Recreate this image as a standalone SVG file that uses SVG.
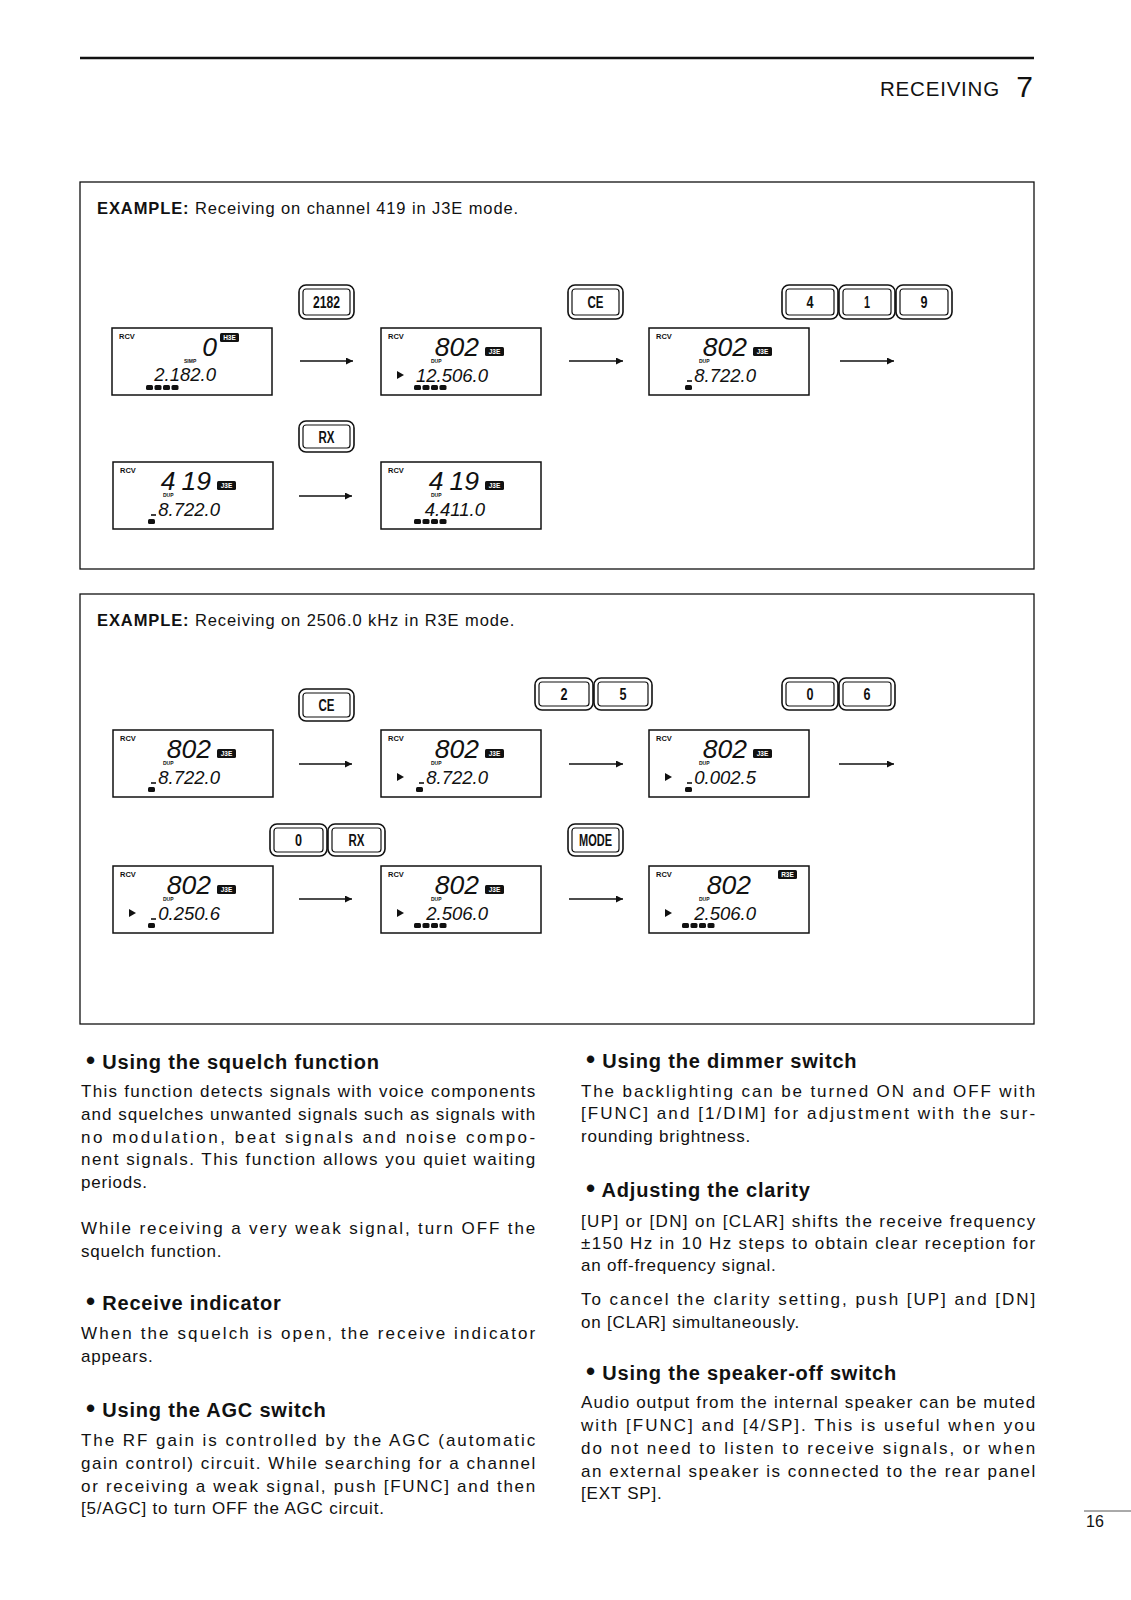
<svg xmlns="http://www.w3.org/2000/svg" width="1131" height="1600" viewBox="0 0 1131 1600">
<defs>
<style>
text{font-family:"Liberation Sans",Arial,sans-serif;fill:#111}
.box{fill:none;stroke:#111;stroke-width:1.3}
.lcd{fill:#fff;stroke:#111;stroke-width:1.5}
.rcv{font-size:7.5px;font-weight:bold}
.big{font-size:26.5px;font-style:italic;text-anchor:end}
.frq{font-size:18.5px;font-style:italic;text-anchor:end}
.tiny{font-size:5px;font-weight:bold}
.bdg{fill:#111}
.bdt{font-size:6.5px;font-weight:bold;fill:#fff;text-anchor:middle}
.bar{fill:#111}
.tri{fill:#111}
.seg{stroke:#111;stroke-width:1.6}
.bo{fill:#fff;stroke:#111;stroke-width:1.6}
.bi{fill:none;stroke:#111;stroke-width:1.2}
.bt{font-size:16px;font-weight:bold;text-anchor:middle}
.conn line{stroke:#111;stroke-width:1.3}
.ex{font-size:16.5px;letter-spacing:0.9px}
.exb{font-weight:bold}
.h{font-size:20px;font-weight:bold;letter-spacing:0.8px}
.bul{font-size:26px}
.b{font-size:17px;letter-spacing:0.8px}
</style>
<marker id="ah" viewBox="0 0 10 10" refX="10" refY="5" markerWidth="11" markerHeight="7" markerUnits="userSpaceOnUse" orient="auto"><path d="M0,0 L10,5 L0,10 Z" fill="#111"/></marker>
</defs>
<rect width="1131" height="1600" fill="#fff"/>

<g id="header">
<line x1="80" y1="58" x2="1034" y2="58" stroke="#111" stroke-width="2.5"/>
<text x="880" y="96" font-size="20.5" letter-spacing="0.8">RECEIVING</text>
<text x="1033" y="97" font-size="30" text-anchor="end">7</text>
</g>

<g id="example1">
<rect class="box" x="80" y="182" width="954" height="387"/>
<text class="ex" x="97" y="214"><tspan class="exb">EXAMPLE:</tspan> Receiving on channel 419 in J3E mode.</text>
</g>
<g id="example2">
<rect class="box" x="80" y="594" width="954" height="430"/>
<text class="ex" x="97" y="626"><tspan class="exb">EXAMPLE:</tspan> Receiving on 2506.0 kHz in R3E mode.</text>
</g>

<!-- Buttons -->
<g id="btn-2182" transform="translate(299,285)"><rect class="bo" width="55" height="34" rx="7"/><rect class="bi" x="4" y="4" width="47" height="26" rx="3"/><text class="bt" x="27.5" y="23" textLength="27" lengthAdjust="spacingAndGlyphs">2182</text></g>
<g id="btn-ce1" transform="translate(568,285)"><rect class="bo" width="55" height="34" rx="7"/><rect class="bi" x="4" y="4" width="47" height="26" rx="3"/><text class="bt" x="27.5" y="23" textLength="16" lengthAdjust="spacingAndGlyphs">CE</text></g>
<g id="btn-4" transform="translate(782,285)"><rect class="bo" width="56" height="34" rx="7"/><rect class="bi" x="4" y="4" width="48" height="26" rx="3"/><text class="bt" x="28" y="23" textLength="7" lengthAdjust="spacingAndGlyphs">4</text></g>
<g id="btn-1" transform="translate(839,285)"><rect class="bo" width="56" height="34" rx="7"/><rect class="bi" x="4" y="4" width="48" height="26" rx="3"/><text class="bt" x="28" y="23" textLength="6" lengthAdjust="spacingAndGlyphs">1</text></g>
<g id="btn-9" transform="translate(896,285)"><rect class="bo" width="56" height="34" rx="7"/><rect class="bi" x="4" y="4" width="48" height="26" rx="3"/><text class="bt" x="28" y="23" textLength="7" lengthAdjust="spacingAndGlyphs">9</text></g>
<g id="btn-rx1" transform="translate(299,421)"><rect class="bo" width="55" height="31" rx="7"/><rect class="bi" x="4" y="4" width="47" height="23" rx="3"/><text class="bt" x="27.5" y="21.5" textLength="16" lengthAdjust="spacingAndGlyphs">RX</text></g>

<g id="btn-ce2" transform="translate(299,689)"><rect class="bo" width="55" height="32" rx="7"/><rect class="bi" x="4" y="4" width="47" height="24" rx="3"/><text class="bt" x="27.5" y="22" textLength="16" lengthAdjust="spacingAndGlyphs">CE</text></g>
<g id="btn-2" transform="translate(535,678)"><rect class="bo" width="58" height="32" rx="7"/><rect class="bi" x="4" y="4" width="50" height="24" rx="3"/><text class="bt" x="29" y="22" textLength="7" lengthAdjust="spacingAndGlyphs">2</text></g>
<g id="btn-5" transform="translate(594,678)"><rect class="bo" width="58" height="32" rx="7"/><rect class="bi" x="4" y="4" width="50" height="24" rx="3"/><text class="bt" x="29" y="22" textLength="7" lengthAdjust="spacingAndGlyphs">5</text></g>
<g id="btn-0a" transform="translate(782,678)"><rect class="bo" width="56" height="32" rx="7"/><rect class="bi" x="4" y="4" width="48" height="24" rx="3"/><text class="bt" x="28" y="22" textLength="7" lengthAdjust="spacingAndGlyphs">0</text></g>
<g id="btn-6" transform="translate(839,678)"><rect class="bo" width="56" height="32" rx="7"/><rect class="bi" x="4" y="4" width="48" height="24" rx="3"/><text class="bt" x="28" y="22" textLength="7" lengthAdjust="spacingAndGlyphs">6</text></g>
<g id="btn-0b" transform="translate(270,824)"><rect class="bo" width="57" height="32" rx="7"/><rect class="bi" x="4" y="4" width="49" height="24" rx="3"/><text class="bt" x="28.5" y="22" textLength="7" lengthAdjust="spacingAndGlyphs">0</text></g>
<g id="btn-rx2" transform="translate(328,824)"><rect class="bo" width="57" height="32" rx="7"/><rect class="bi" x="4" y="4" width="49" height="24" rx="3"/><text class="bt" x="28.5" y="22" textLength="16" lengthAdjust="spacingAndGlyphs">RX</text></g>
<g id="btn-mode" transform="translate(568,824)"><rect class="bo" width="55" height="32" rx="7"/><rect class="bi" x="4" y="4" width="47" height="24" rx="3"/><text class="bt" x="27.5" y="22" textLength="33" lengthAdjust="spacingAndGlyphs">MODE</text></g>

<!-- Displays -->
<g id="lcd-1" transform="translate(112,328)">
<rect class="lcd" width="160" height="67"/><text class="rcv" x="7" y="11">RCV</text>
<text class="big" x="105" y="28">0</text>
<rect class="bdg" x="108" y="5" width="19" height="9" rx="1.5"/><text class="bdt" x="117.5" y="12.3">H3E</text>
<text class="tiny" x="72" y="35">SIMP</text>
<text class="frq" x="104" y="53">2.182.0</text>
<rect class="bar" x="34" y="57" width="7" height="5" rx="1.5"/><rect class="bar" x="42.5" y="57" width="7" height="5" rx="1.5"/><rect class="bar" x="51" y="57" width="7" height="5" rx="1.5"/><rect class="bar" x="59.5" y="57" width="7" height="5" rx="1.5"/>
</g>
<g id="lcd-2" transform="translate(381,328)">
<rect class="lcd" width="160" height="67"/><text class="rcv" x="7" y="11">RCV</text>
<text class="big" x="98" y="28">802</text>
<rect class="bdg" x="104" y="19" width="19" height="9" rx="1.5"/><text class="bdt" x="113.5" y="26.3">J3E</text>
<text class="tiny" x="50" y="35">DUP</text>
<path class="tri" d="M16,43 L23,47 L16,51 Z"/>
<text class="frq" x="107" y="54">12.506.0</text>
<rect class="bar" x="33" y="57" width="7" height="5" rx="1.5"/><rect class="bar" x="41.5" y="57" width="7" height="5" rx="1.5"/><rect class="bar" x="50" y="57" width="7" height="5" rx="1.5"/><rect class="bar" x="58.5" y="57" width="7" height="5" rx="1.5"/>
</g>
<g id="lcd-3" transform="translate(649,328)">
<rect class="lcd" width="160" height="67"/><text class="rcv" x="7" y="11">RCV</text>
<text class="big" x="98" y="28">802</text>
<rect class="bdg" x="104" y="19" width="19" height="9" rx="1.5"/><text class="bdt" x="113.5" y="26.3">J3E</text>
<text class="tiny" x="50" y="35">DUP</text>
<line class="seg" x1="38" y1="53" x2="43" y2="53"/>
<text class="frq" x="107" y="54">8.722.0</text>
<rect class="bar" x="36" y="57" width="7" height="5" rx="1.5"/>
</g>
<g id="lcd-4" transform="translate(113,462)">
<rect class="lcd" width="160" height="67"/><text class="rcv" x="7" y="11">RCV</text>
<text class="big" x="98" y="28">4<tspan dx="6">19</tspan></text>
<rect class="bdg" x="104" y="19" width="19" height="9" rx="1.5"/><text class="bdt" x="113.5" y="26.3">J3E</text>
<text class="tiny" x="50" y="35">DUP</text>
<line class="seg" x1="38" y1="53" x2="43" y2="53"/>
<text class="frq" x="107" y="54">8.722.0</text>
<rect class="bar" x="35" y="57" width="7" height="5" rx="1.5"/>
</g>
<g id="lcd-5" transform="translate(381,462)">
<rect class="lcd" width="160" height="67"/><text class="rcv" x="7" y="11">RCV</text>
<text class="big" x="98" y="28">4<tspan dx="6">19</tspan></text>
<rect class="bdg" x="104" y="19" width="19" height="9" rx="1.5"/><text class="bdt" x="113.5" y="26.3">J3E</text>
<text class="tiny" x="50" y="35">DUP</text>
<text class="frq" x="104" y="54">4.411.0</text>
<rect class="bar" x="33" y="57" width="7" height="5" rx="1.5"/><rect class="bar" x="41.5" y="57" width="7" height="5" rx="1.5"/><rect class="bar" x="50" y="57" width="7" height="5" rx="1.5"/><rect class="bar" x="58.5" y="57" width="7" height="5" rx="1.5"/>
</g>

<g id="lcd-6" transform="translate(113,730)">
<rect class="lcd" width="160" height="67"/><text class="rcv" x="7" y="11">RCV</text>
<text class="big" x="98" y="28">802</text>
<rect class="bdg" x="104" y="19" width="19" height="9" rx="1.5"/><text class="bdt" x="113.5" y="26.3">J3E</text>
<text class="tiny" x="50" y="35">DUP</text>
<line class="seg" x1="38" y1="53" x2="43" y2="53"/>
<text class="frq" x="107" y="54">8.722.0</text>
<rect class="bar" x="35" y="57" width="7" height="5" rx="1.5"/>
</g>
<g id="lcd-7" transform="translate(381,730)">
<rect class="lcd" width="160" height="67"/><text class="rcv" x="7" y="11">RCV</text>
<text class="big" x="98" y="28">802</text>
<rect class="bdg" x="104" y="19" width="19" height="9" rx="1.5"/><text class="bdt" x="113.5" y="26.3">J3E</text>
<text class="tiny" x="50" y="35">DUP</text>
<path class="tri" d="M16,43 L23,47 L16,51 Z"/>
<line class="seg" x1="38" y1="53" x2="43" y2="53"/>
<text class="frq" x="107" y="54">8.722.0</text>
<rect class="bar" x="35" y="57" width="7" height="5" rx="1.5"/>
</g>
<g id="lcd-8" transform="translate(649,730)">
<rect class="lcd" width="160" height="67"/><text class="rcv" x="7" y="11">RCV</text>
<text class="big" x="98" y="28">802</text>
<rect class="bdg" x="104" y="19" width="19" height="9" rx="1.5"/><text class="bdt" x="113.5" y="26.3">J3E</text>
<text class="tiny" x="50" y="35">DUP</text>
<path class="tri" d="M16,43 L23,47 L16,51 Z"/>
<line class="seg" x1="38" y1="53" x2="43" y2="53"/>
<text class="frq" x="107" y="54">0.002.5</text>
<rect class="bar" x="36" y="57" width="7" height="5" rx="1.5"/>
</g>

<g id="lcd-9" transform="translate(113,866)">
<rect class="lcd" width="160" height="67"/><text class="rcv" x="7" y="11">RCV</text>
<text class="big" x="98" y="28">802</text>
<rect class="bdg" x="104" y="19" width="19" height="9" rx="1.5"/><text class="bdt" x="113.5" y="26.3">J3E</text>
<text class="tiny" x="50" y="35">DUP</text>
<path class="tri" d="M16,43 L23,47 L16,51 Z"/>
<line class="seg" x1="38" y1="53" x2="43" y2="53"/>
<text class="frq" x="107" y="54">0.250.6</text>
<rect class="bar" x="35" y="57" width="7" height="5" rx="1.5"/>
</g>
<g id="lcd-10" transform="translate(381,866)">
<rect class="lcd" width="160" height="67"/><text class="rcv" x="7" y="11">RCV</text>
<text class="big" x="98" y="28">802</text>
<rect class="bdg" x="104" y="19" width="19" height="9" rx="1.5"/><text class="bdt" x="113.5" y="26.3">J3E</text>
<text class="tiny" x="50" y="35">DUP</text>
<path class="tri" d="M16,43 L23,47 L16,51 Z"/>
<text class="frq" x="107" y="54">2.506.0</text>
<rect class="bar" x="33" y="57" width="7" height="5" rx="1.5"/><rect class="bar" x="41.5" y="57" width="7" height="5" rx="1.5"/><rect class="bar" x="50" y="57" width="7" height="5" rx="1.5"/><rect class="bar" x="58.5" y="57" width="7" height="5" rx="1.5"/>
</g>
<g id="lcd-11" transform="translate(649,866)">
<rect class="lcd" width="160" height="67"/><text class="rcv" x="7" y="11">RCV</text>
<text class="big" x="102" y="28">802</text>
<rect class="bdg" x="129" y="4" width="19" height="9" rx="1.5"/><text class="bdt" x="138.5" y="11.3">R3E</text>
<text class="tiny" x="50" y="35">DUP</text>
<path class="tri" d="M16,43 L23,47 L16,51 Z"/>
<text class="frq" x="107" y="54">2.506.0</text>
<rect class="bar" x="33" y="57" width="7" height="5" rx="1.5"/><rect class="bar" x="41.5" y="57" width="7" height="5" rx="1.5"/><rect class="bar" x="50" y="57" width="7" height="5" rx="1.5"/><rect class="bar" x="58.5" y="57" width="7" height="5" rx="1.5"/>
</g>

<g id="connectors" class="conn">
<line x1="300" y1="361" x2="353" y2="361" marker-end="url(#ah)"/>
<line x1="569" y1="361" x2="623" y2="361" marker-end="url(#ah)"/>
<line x1="840" y1="361" x2="894" y2="361" marker-end="url(#ah)"/>
<line x1="299" y1="496" x2="352" y2="496" marker-end="url(#ah)"/>
<line x1="299" y1="764" x2="352" y2="764" marker-end="url(#ah)"/>
<line x1="569" y1="764" x2="623" y2="764" marker-end="url(#ah)"/>
<line x1="839" y1="764" x2="894" y2="764" marker-end="url(#ah)"/>
<line x1="299" y1="899" x2="352" y2="899" marker-end="url(#ah)"/>
<line x1="569" y1="899" x2="623" y2="899" marker-end="url(#ah)"/>
</g>

<g id="text-left">
<text class="h" x="86" y="1069"><tspan class="bul">•</tspan> Using the squelch function</text>
<text class="b" x="81" y="1097" textLength="455" lengthAdjust="spacing">This function detects signals with voice components</text>
<text class="b" x="81" y="1119.8" textLength="455" lengthAdjust="spacing">and squelches unwanted signals such as signals with</text>
<text class="b" x="81" y="1142.6" textLength="455" lengthAdjust="spacing">no modulation, beat signals and noise compo-</text>
<text class="b" x="81" y="1165.4" textLength="455" lengthAdjust="spacing">nent signals. This function allows you quiet waiting</text>
<text class="b" x="81" y="1188.2">periods.</text>
<text class="b" x="81" y="1233.6" textLength="455" lengthAdjust="spacing">While receiving a very weak signal, turn OFF the</text>
<text class="b" x="81" y="1256.5">squelch function.</text>
<text class="h" x="86" y="1310.2"><tspan class="bul">•</tspan> Receive indicator</text>
<text class="b" x="81" y="1338.7" textLength="455" lengthAdjust="spacing">When the squelch is open, the receive indicator</text>
<text class="b" x="81" y="1362">appears.</text>
<text class="h" x="86" y="1417.4"><tspan class="bul">•</tspan> Using the AGC switch</text>
<text class="b" x="81" y="1446" textLength="455" lengthAdjust="spacing">The RF gain is controlled by the AGC (automatic</text>
<text class="b" x="81" y="1469.4" textLength="455" lengthAdjust="spacing">gain control) circuit. While searching for a channel</text>
<text class="b" x="81" y="1492" textLength="455" lengthAdjust="spacing">or receiving a weak signal, push [FUNC] and then</text>
<text class="b" x="81" y="1514.4">[5/AGC] to turn OFF the AGC circuit.</text>
</g>

<g id="text-right">
<text class="h" x="586" y="1068.3"><tspan class="bul">•</tspan> Using the dimmer switch</text>
<text class="b" x="581" y="1097" textLength="455" lengthAdjust="spacing">The backlighting can be turned ON and OFF with</text>
<text class="b" x="581" y="1119.4" textLength="455" lengthAdjust="spacing">[FUNC] and [1/DIM] for adjustment with the sur-</text>
<text class="b" x="581" y="1142">rounding brightness.</text>
<text class="h" x="586" y="1196.9"><tspan class="bul">•</tspan> Adjusting the clarity</text>
<text class="b" x="581" y="1226.5" textLength="455" lengthAdjust="spacing">[UP] or [DN] on [CLAR] shifts the receive frequency</text>
<text class="b" x="581" y="1249" textLength="455" lengthAdjust="spacing">±150 Hz in 10 Hz steps to obtain clear reception for</text>
<text class="b" x="581" y="1271.4">an off-frequency signal.</text>
<text class="b" x="581" y="1305.1" textLength="455" lengthAdjust="spacing">To cancel the clarity setting, push [UP] and [DN]</text>
<text class="b" x="581" y="1327.6">on [CLAR] simultaneously.</text>
<text class="h" x="586" y="1379.6"><tspan class="bul">•</tspan> Using the speaker-off switch</text>
<text class="b" x="581" y="1408.2" textLength="455" lengthAdjust="spacing">Audio output from the internal speaker can be muted</text>
<text class="b" x="581" y="1430.7" textLength="455" lengthAdjust="spacing">with [FUNC] and [4/SP]. This is useful when you</text>
<text class="b" x="581" y="1454.1" textLength="455" lengthAdjust="spacing">do not need to listen to receive signals, or when</text>
<text class="b" x="581" y="1476.6" textLength="455" lengthAdjust="spacing">an external speaker is connected to the rear panel</text>
<text class="b" x="581" y="1499">[EXT SP].</text>
</g>

<g id="page-number">
<line x1="1084" y1="1511" x2="1131" y2="1511" stroke="#555" stroke-width="1"/>
<text x="1086" y="1527" font-size="16">16</text>
</g>
</svg>
